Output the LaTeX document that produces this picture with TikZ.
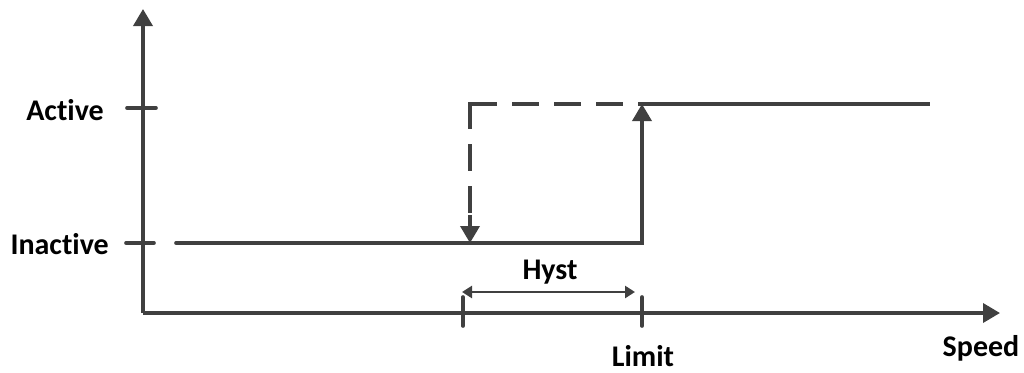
\documentclass[tikz,border=0pt]{standalone}
\usepackage{fontspec}
\setmainfont{Carlito}[Ligatures={NoCommon}]
\usetikzlibrary{arrows.meta}
\definecolor{ln}{HTML}{404040}
\tikzset{
  ax/.style={draw=ln, line width=3.6pt},
  lbl/.style={font=\fontsize{30}{34}\selectfont\bfseries, text=black, inner sep=0pt},
  bigtip/.style={-{Triangle[length=17pt,width=19pt]}},
  dsh/.style={dash pattern=on 27pt off 15pt}
}
\begin{document}
\begin{tikzpicture}[x=1pt,y=-1pt]
\useasboundingbox (0,0) rectangle (1024,372);
\coordinate (O) at (143,313);
\coordinate (Ytop) at (143,9);
\coordinate (Xend) at (1000,313);
\draw[ax, bigtip] (O) -- (Ytop);
\draw[ax, bigtip] (O) -- (Xend);
% y ticks
\coordinate (ta1) at (127,108); \coordinate (ta2) at (156,108);
\coordinate (ti1) at (126,243); \coordinate (ti2) at (154,243);
\draw[ax, line cap=round] (ta1) -- (ta2);
\draw[ax, line cap=round] (ti1) -- (ti2);
\node[lbl, anchor=east] (act) at (104,110) {Active};
\node[lbl, anchor=east] (inact) at (109,244) {Inactive};
% x ticks
\coordinate (h1) at (463,297); \coordinate (h1b) at (463,326);
\coordinate (l1) at (642,297); \coordinate (l1b) at (642,326);
\draw[ax, line cap=round] (h1) -- (h1b);
\draw[ax, line cap=round] (l1) -- (l1b);
% signal
\coordinate (s0) at (176,243);
\coordinate (s1) at (642,243);
\coordinate (s2) at (642,104);
\coordinate (s3) at (930,104);
\draw[ax, line cap=round] (s0) -- (s1) -- (642,200);
\draw[ax, bigtip] (s1) -- (s2);
\draw[ax] (640.2,104) -- (s3);
% dashed
\coordinate (d0) at (470,104);
\coordinate (d1) at (470,243);
\draw[ax, dsh] (d0) -- (641,104);
\draw[ax, dsh] (468.2,104) -- (470,104) -- (470,222);
\draw[ax, bigtip] (470,215) -- (d1);
% hyst
\coordinate (hy1) at (462,292);
\coordinate (hy2) at (635,292);
\draw[draw=ln, line width=2.6pt, {Triangle[length=10pt,width=12pt]}-{Triangle[length=10pt,width=12pt]}] (hy1) -- (hy2);
\node[lbl] (hyst) at (550,272) {Hyst};
\node[lbl] (limit) at (643,356) {Limit};
\node[lbl] (speed) at (981,348) {Speed};
\end{tikzpicture}
\end{document}
